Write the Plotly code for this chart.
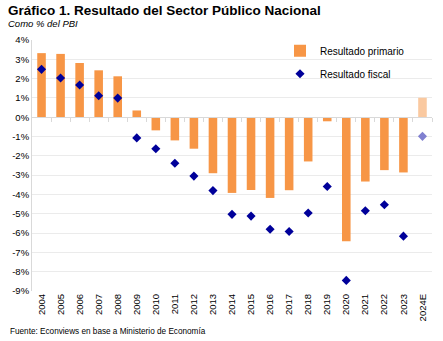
import plotly.graph_objects as go

years = ["2004", "2005", "2006", "2007", "2008", "2009", "2010", "2011", "2012", "2013",
         "2014", "2015", "2016", "2017", "2018", "2019", "2020", "2021", "2022", "2023", "2024E"]
primario = [3.32, 3.28, 2.81, 2.43, 2.12, 0.35, -0.68, -1.20, -1.63, -2.90,
            -3.92, -3.77, -4.18, -3.78, -2.29, -0.21, -6.42, -3.33, -2.74, -2.86, 1.01]
fiscal = [2.48, 2.03, 1.67, 1.11, 0.99, -1.07, -1.63, -2.38, -3.05, -3.80,
          -5.03, -5.12, -5.80, -5.92, -4.96, -3.59, -8.45, -4.84, -4.53, -6.16, -0.99]
y_ticks = [4, 3, 2, 1, 0, -1, -2, -3, -4, -5, -6, -7, -8, -9]
y_labels = [f"{v}%" for v in y_ticks]

ORANGE = "#F79646"
ORANGE_LIGHT = "#FAC9A0"
NAVY = "#00009A"
NAVY_LIGHT = "#8080D0"

bar_colors = [ORANGE] * (len(years) - 1) + [ORANGE_LIGHT]
dot_colors = [NAVY] * (len(years) - 1) + [NAVY_LIGHT]

FONT = "Liberation Sans"
ymin, ymax = -9, 4

fig = go.Figure()
fig.add_trace(go.Bar(x=years, y=primario, name="Resultado primario",
                     marker=dict(color=bar_colors, line=dict(width=0)),
                     width=0.45, legendgroup="a"))
fig.add_trace(go.Scatter(x=years, y=fiscal, name="Resultado fiscal", mode="markers",
                         marker=dict(symbol="diamond", size=7, color=dot_colors),
                         legendgroup="b"))
# invisible trace to carry boundary ticks on the zero line
fig.add_trace(go.Scatter(x=[-0.5, len(years) - 0.5], y=[0, 0], xaxis="x2", mode="lines",
                         line=dict(width=0), showlegend=False, hoverinfo="skip"))

fig.update_layout(
    width=443, height=341,
    margin=dict(l=32, r=11, t=40, b=50),
    paper_bgcolor="white", plot_bgcolor="white",
    font=dict(family=FONT, size=9, color="#000000"),
    showlegend=True,
    legend=dict(x=0.62, y=1.015, xanchor="left", yanchor="top", bgcolor="rgba(0,0,0,0)",
                font=dict(size=10), tracegroupgap=4, itemwidth=30),
    xaxis=dict(type="category", tickangle=-90, showgrid=False, showline=False,
               ticks="", tickfont=dict(size=9.5), range=[-0.5, len(years) - 0.5]),
    xaxis2=dict(overlaying="x", anchor="free", position=(0 - ymin) / (ymax - ymin),
                range=[-0.5, len(years) - 0.5],
                tickvals=[i + 0.5 for i in range(len(years))], showticklabels=False,
                ticks="outside", ticklen=4, tickcolor="#D9D9D9", showline=True,
                linecolor="#D9D9D9", linewidth=1, showgrid=False, zeroline=False),
    yaxis=dict(range=[ymin, ymax], tickvals=y_ticks, ticktext=y_labels,
               showgrid=True, gridcolor="#EBEBEB", gridwidth=1, zeroline=False,
               showline=True, linecolor="#D9D9D9", ticks="", tickfont=dict(size=9.5)),
    annotations=[
        dict(text="<b>Gráfico 1. Resultado del Sector Público Nacional</b>", xref="paper", yref="paper",
             x=-0.065, y=1.118, xanchor="left", yanchor="middle", showarrow=False,
             font=dict(size=13.5, family=FONT)),
        dict(text="<i>Como % del PBI</i>", xref="paper", yref="paper",
             x=-0.065, y=1.066, xanchor="left", yanchor="middle", showarrow=False,
             font=dict(size=9.5, family=FONT)),
        dict(text="Fuente: Econviews en base a Ministerio de Economía", xref="paper", yref="paper",
             x=-0.06, y=-0.16, xanchor="left", yanchor="middle", showarrow=False,
             font=dict(size=8.2, family=FONT)),
    ],
)
fig.write_html("out.html")
